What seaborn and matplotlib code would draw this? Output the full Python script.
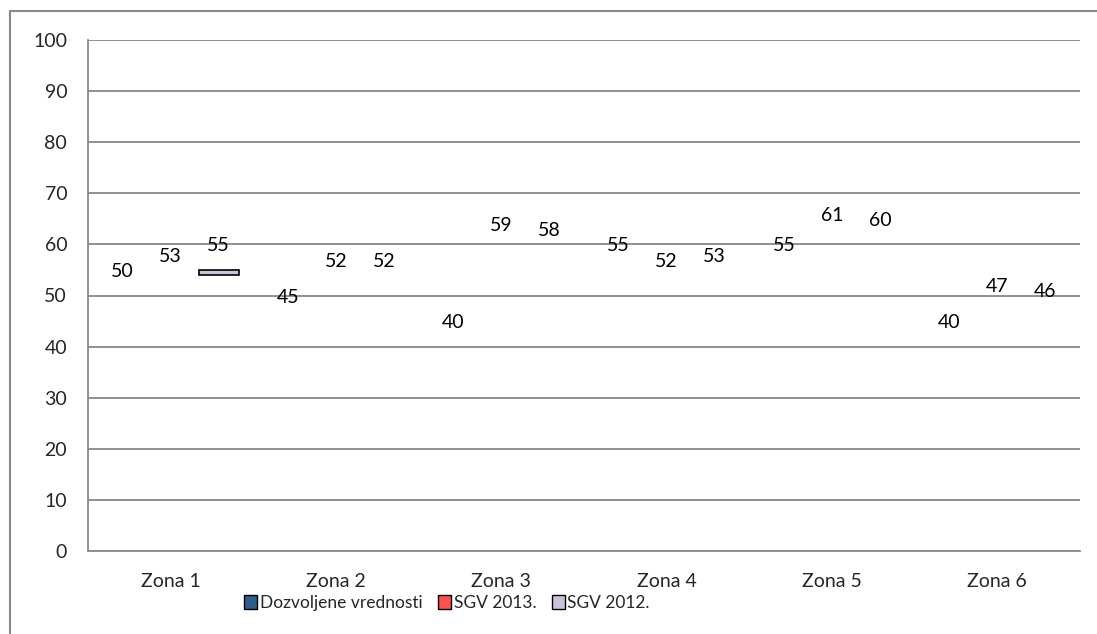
import matplotlib
matplotlib.use("Agg")
import matplotlib.pyplot as plt
import seaborn as sns
import pandas as pd
from matplotlib.lines import Line2D
from matplotlib.patches import Patch

zones = ["Zona 1", "Zona 2", "Zona 3", "Zona 4", "Zona 5", "Zona 6"]
series = ["Dozvoljene vrednosti", "SGV 2013.", "SGV 2012."]
dozvoljene = [50, 45, 40, 55, 55, 40]
sgv2013 = [53, 52, 59, 52, 61, 47]
sgv2012 = [55, 52, 58, 53, 60, 46]
colors = ["#2F5D8C", "#FF5050", "#CCC1DA"]
yticks = [0, 10, 20, 30, 40, 50, 60, 70, 80, 90, 100]

rows = []
for s, vals in zip(series, [dozvoljene, sgv2013, sgv2012]):
    for z, v in zip(zones, vals):
        rows.append({"zone": z, "series": s, "value": v})
df = pd.DataFrame(rows)

sns.set_theme(style="white")
plt.rcParams["font.family"] = ["Lato", "DejaVu Sans"]

fig = plt.figure(figsize=(10.97, 6.34), dpi=100)
ax = fig.add_axes([88 / 1097, 1 - 551 / 634, (1080 - 88) / 1097, (551 - 40) / 634])

sns.barplot(data=df, x="zone", y="value", hue="series", order=zones,
            hue_order=series, palette=colors, width=0.87, gap=0.17,
            ax=ax, legend=False, errorbar=None)

# Only a sliver of the Zone 1 / SGV 2012 bar is rendered in the reference
for ci, cont in enumerate(ax.containers):
    vals = [dozvoljene, sgv2013, sgv2012][ci]
    for bi, patch in enumerate(cont):
        v = vals[bi]
        cx = patch.get_x() + patch.get_width() / 2
        ax.annotate(str(v), (cx, v), xytext=(0, 24), textcoords="offset pixels",
                    ha="center", va="center", fontsize=14, color="#000000")
        if ci == 2 and bi == 0:
            patch.set_y(v - 1)
            patch.set_height(1)
            patch.set_facecolor(colors[2])
            patch.set_edgecolor("#000000")
            patch.set_linewidth(1.2)
        else:
            patch.set_visible(False)

ax.set_ylim(0, 100)
ax.set_xlim(-0.5, 5.5)
ax.set_yticks(yticks)
ax.set_yticklabels([str(t) for t in yticks], fontsize=14)
ax.tick_params(axis="y", length=0, pad=15)
ax.tick_params(axis="x", length=0, pad=16, labelsize=14)
ax.set_xlabel("")
ax.set_ylabel("")
ax.grid(axis="y", color="#888888", linewidth=1.3)
ax.set_axisbelow(True)
for side in ["top", "right"]:
    ax.spines[side].set_visible(False)
for side in ["left", "bottom"]:
    ax.spines[side].set_color("#888888")
    ax.spines[side].set_linewidth(1.3)

handles = [Patch(facecolor=c, edgecolor="#000000", linewidth=1.0) for c in colors]
fig.legend(handles, series, loc="center", bbox_to_anchor=(447 / 1097, 1 - 603 / 634),
           ncol=3, frameon=False, fontsize=12.5, handlelength=0.75, handleheight=0.85,
           handletextpad=0.15, columnspacing=0.9, borderaxespad=0, borderpad=0)

# outer chart border (left and top visible)
fig.add_artist(Line2D([10 / 1097, 10 / 1097], [0, 1 - 11 / 634], transform=fig.transFigure,
                      color="#888888", linewidth=1.5))
fig.add_artist(Line2D([10 / 1097, 1], [1 - 11 / 634, 1 - 11 / 634], transform=fig.transFigure,
                      color="#888888", linewidth=1.5))

fig.savefig("out.png", dpi=100)
